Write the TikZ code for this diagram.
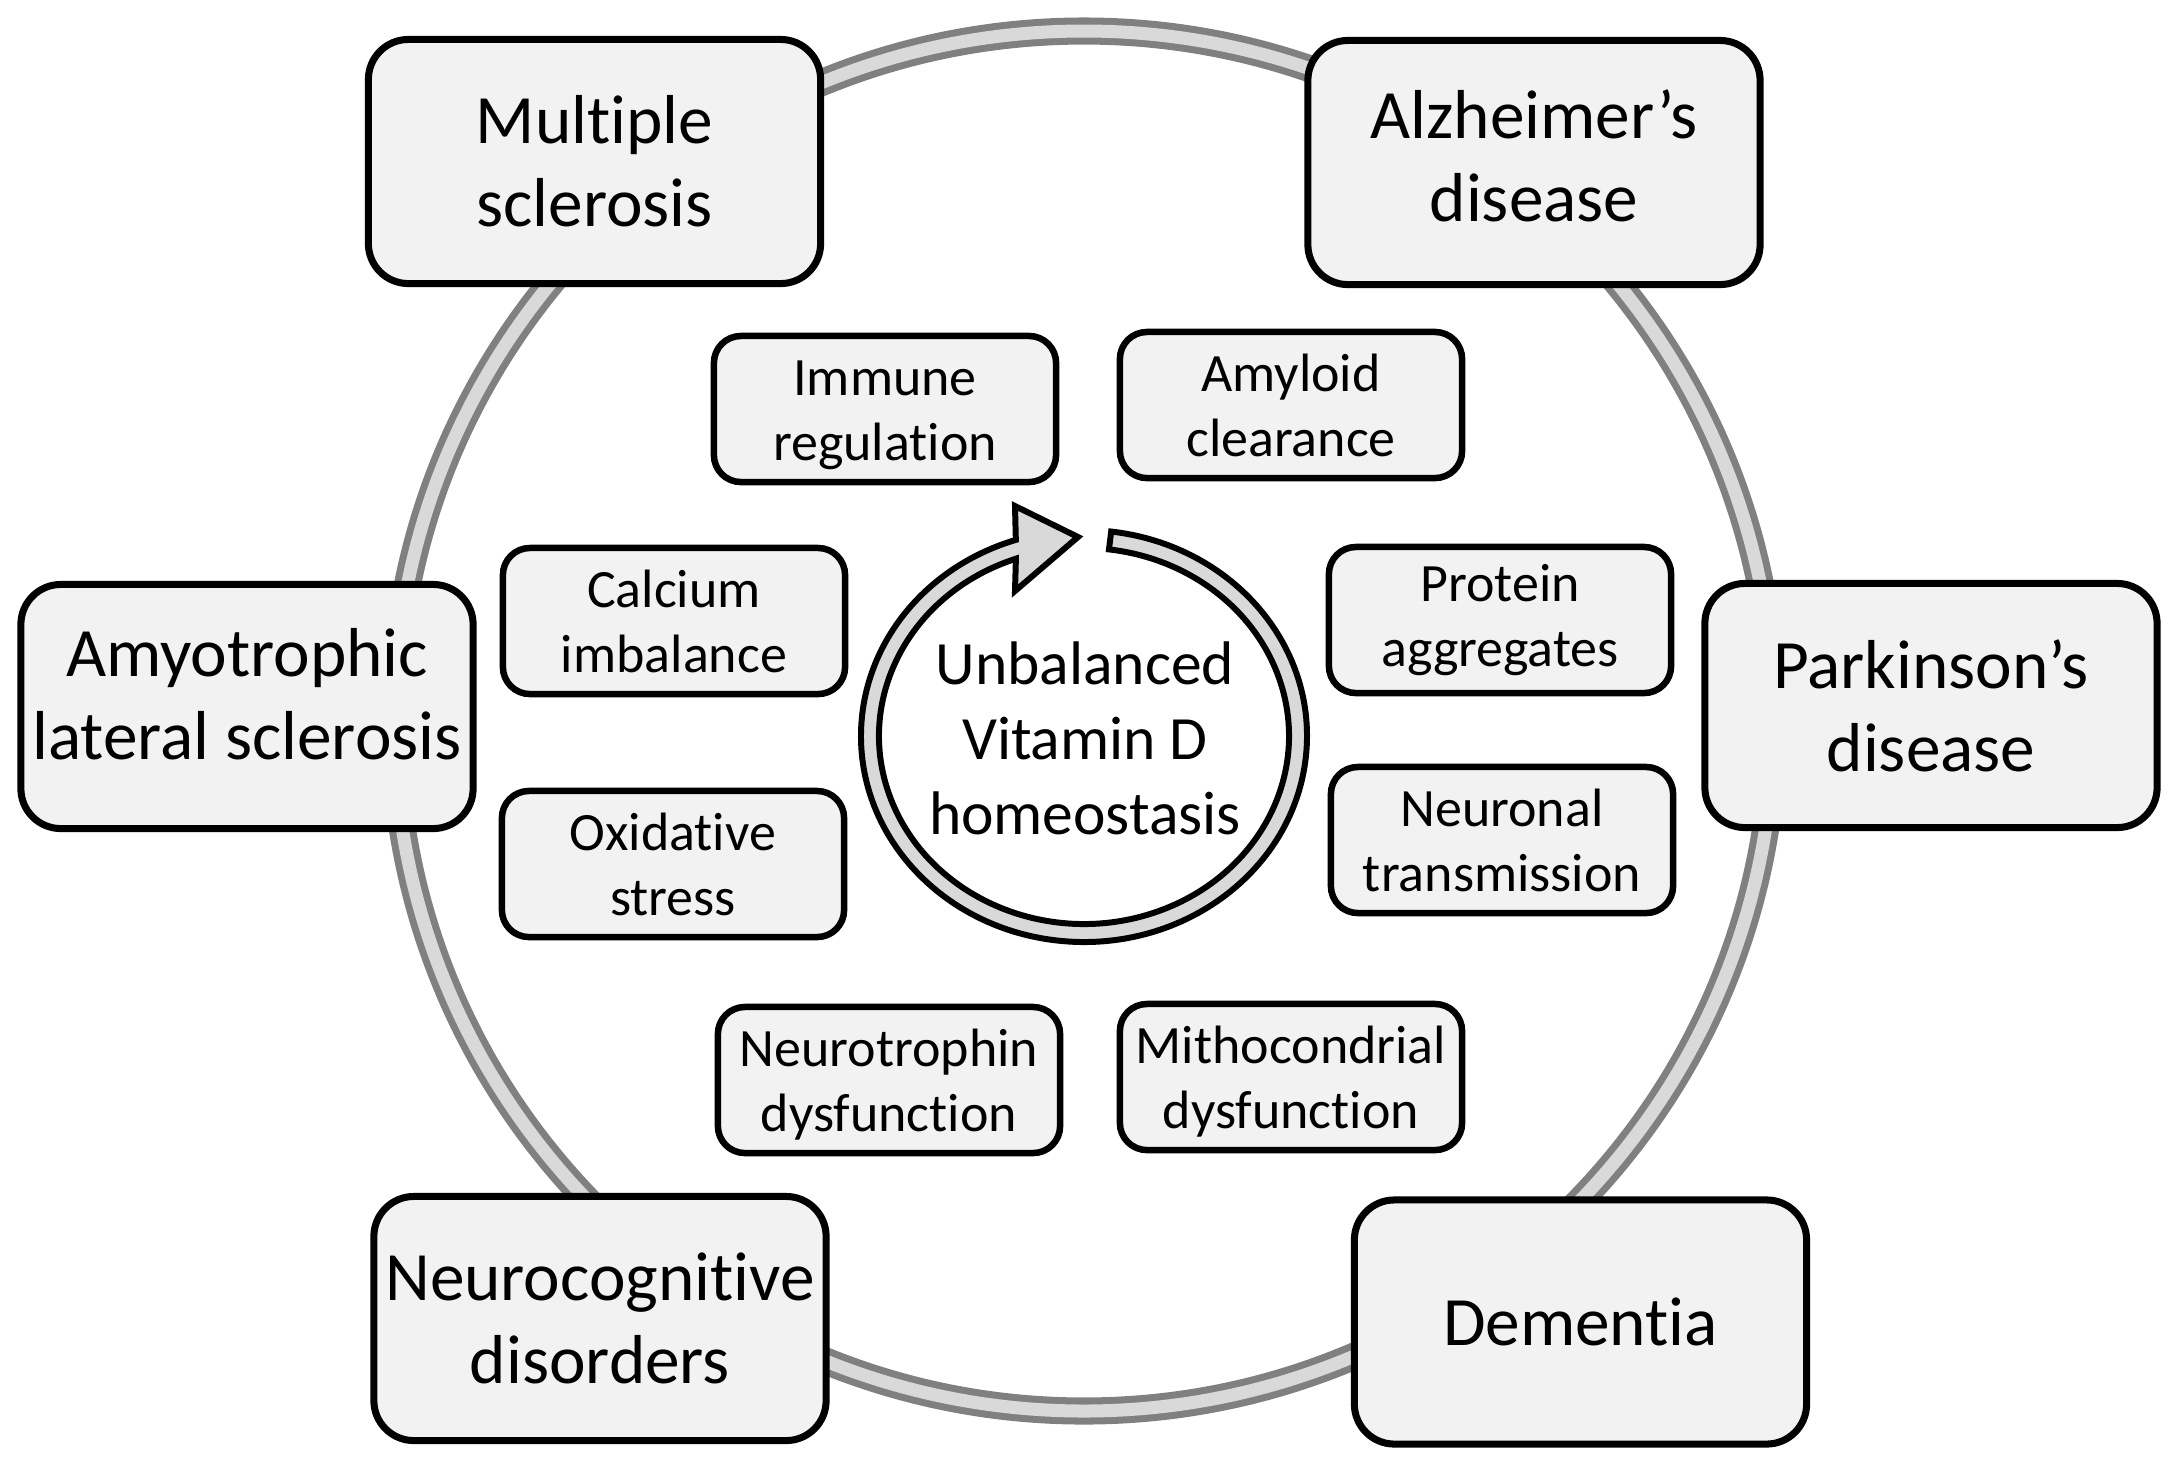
\documentclass[tikz,border=0pt]{standalone}
\usepackage{fontspec}
\setmainfont{Carlito}[Ligatures=NoCommon]
\usetikzlibrary{calc}
\definecolor{boxfill}{HTML}{F2F2F2}
\definecolor{ringdark}{HTML}{808080}
\definecolor{ringlight}{HTML}{D9D9D9}
\newcommand{\upstrut}[1]{\rule{0pt}{#1}}
\newcommand{\dnstrut}[1]{\rule[-#1]{0pt}{#1}}
\begin{document}
\begin{tikzpicture}[x=0.01cm,y=0.01cm,
  bigbox/.style={draw=black, line width=2pt, fill=boxfill, rounded corners=0.4cm,
    minimum width=4.52cm, minimum height=2.44cm, inner sep=0pt, align=center,
    font=\fontsize{19.7}{23.6}\selectfont},
  smallbox/.style={draw=black, line width=1.85pt, fill=boxfill, rounded corners=0.27cm,
    minimum width=3.42cm, minimum height=1.46cm, inner sep=0pt, align=center,
    font=\fontsize{15.35}{18.5}\selectfont},
  centertext/.style={inner sep=0pt, align=center, font=\fontsize{17.5}{21.3}\selectfont}]
\useasboundingbox (0,0) rectangle (2174,-1465);
% outer ring
\coordinate (ringc) at (1084,-721);
\draw[ringdark, line width=7.7pt] (ringc) circle[radius=690];
\draw[ringlight, line width=3.7pt] (ringc) circle[radius=690];
% big boxes
\node[bigbox] (ms)  at (594.5,-161.5) {Multiple\\sclerosis};
\node[bigbox] (ad)  at (1534,-162.5) {Alzheimer’s\\disease\dnstrut{4pt}};
\node[bigbox] (als) at (247,-706.5) {Amyotrophic\\lateral sclerosis\dnstrut{7.4pt}};
\node[bigbox] (pd)  at (1931,-705.5) {Parkinson’s\\disease};
\node[bigbox] (ncd) at (600,-1318.5) {Neurocognitive\\disorders};
\node[bigbox] (dem) at (1580.5,-1322) {Dementia};
% small boxes
\node[smallbox] (imm) at (885,-409) {\upstrut{13.5pt}Immune\\regulation};
\node[smallbox] (amy) at (1291,-405) {Amyloid\\clearance};
\node[smallbox] (cal) at (674,-621) {Calcium\\imbalance};
\node[smallbox] (pro) at (1500,-620) {Protein\\aggregates};
\node[smallbox] (oxi) at (673,-864) {Oxidative\\stress};
\node[smallbox] (neu) at (1502,-840) {Neuronal\\transmission};
\node[smallbox] (ntr) at (889,-1080) {\upstrut{13pt}Neurotrophin\\dysfunction};
\node[smallbox] (mit) at (1291,-1077) {\upstrut{13pt}Mithocondrial\\dysfunction};
% central cycle arrow
\coordinate (c) at (1084,-736);
\draw[black, line width=1.7pt, fill=ringlight]
  ($(c)+(83:223 and 206)$) arc[start angle=83, end angle=-252.2, x radius=223, y radius=206]
  -- (1015,-506) -- (1078,-537) -- (1015,-591)
  -- ($(c)+(-250.6:205 and 188)$) arc[start angle=-250.6, end angle=83, x radius=205, y radius=188]
  -- cycle;
\node[centertext] (vd) at (1085,-738) {Unbalanced\\Vitamin D\\homeostasis};
\end{tikzpicture}
\end{document}
